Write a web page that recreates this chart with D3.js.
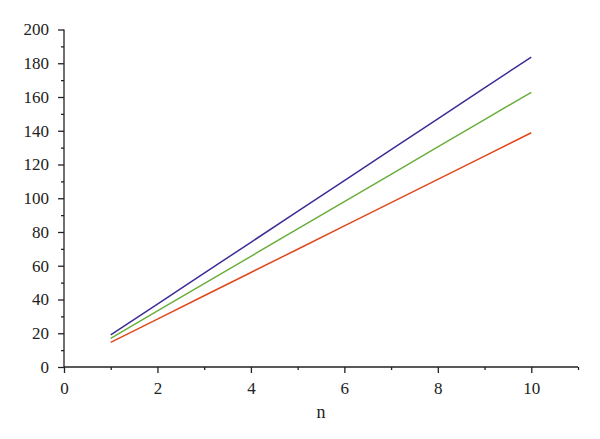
<!DOCTYPE html>
<html><head><meta charset="utf-8">
<script src="https://cdn.jsdelivr.net/npm/d3@7/dist/d3.min.js"></script>
<style>body{margin:0;background:#fff}svg{display:block}
svg text{font-family:"Liberation Serif","DejaVu Serif",serif !important;}</style>
</head><body>
<script>
const nValues = [1, 2, 3, 4, 5, 6, 7, 8, 9, 10];
const blueSeries  = [19.0, 37.3, 55.6, 73.9, 92.2, 110.5, 128.8, 147.1, 165.4, 183.7];
const greenSeries = [17.0, 33.2, 49.4, 65.6, 81.8, 98.0, 114.2, 130.4, 146.6, 162.8];
const redSeries   = [14.6, 28.4, 42.2, 56.0, 69.8, 83.6, 97.4, 111.2, 125.0, 138.8];
const xTicks = [0, 2, 4, 6, 8, 10];
const yTicks = [0, 20, 40, 60, 80, 100, 120, 140, 160, 180, 200];
const xLabel = "n";

const W = 600, H = 439;
const svg = d3.select("body").append("svg").attr("width", W).attr("height", H);
const x = d3.scaleLinear().domain([0, 11]).range([64, 578]);
const y = d3.scaleLinear().domain([0, 200]).range([367, 29.5]);

const xMinor = d3.range(1, 12, 2);
const yMinor = d3.range(10, 200, 20);

const gx = svg.append("g").attr("transform", `translate(0,${y(0)})`);
gx.call(d3.axisBottom(x).tickValues(xMinor).tickSize(3).tickFormat(""));
gx.call(g => g.select(".domain").remove());
const gx2 = svg.append("g").attr("transform", `translate(0,${y(0)})`)
  .call(d3.axisBottom(x).tickValues(xTicks).tickSize(6).tickSizeOuter(0).tickPadding(9));
gx2.select(".domain").attr("d", `M${x(0)},0H${x(11)}`);

const gy = svg.append("g").attr("transform", `translate(${x(0)},0)`);
gy.call(d3.axisLeft(y).tickValues(yMinor).tickSize(3).tickFormat(""));
gy.call(g => g.select(".domain").remove());
const gy2 = svg.append("g").attr("transform", `translate(${x(0)},0)`)
  .call(d3.axisLeft(y).tickValues(yTicks).tickSize(6).tickSizeOuter(0).tickPadding(9));
gy2.select(".domain").attr("d", `M0,${y(0)}V${y(200)}`);

svg.selectAll("g").attr("font-family", null);
svg.selectAll(".tick line, .domain").attr("stroke", "#222").attr("stroke-width", 1.3);
svg.selectAll(".tick text").style("font-size", "17px").attr("fill", "#222");

svg.append("text").attr("x", 321).attr("y", 418).attr("text-anchor", "middle")
  .style("font-size", "18px").attr("fill", "#222").text(xLabel);

const line = d3.line().x((d, i) => x(nValues[i])).y(d => y(d));
[[redSeries, "#e2461b"], [greenSeries, "#6aae3b"], [blueSeries, "#3b2d96"]].forEach(([s, c]) => {
  svg.append("path").datum(s).attr("d", line).attr("fill", "none")
    .attr("stroke", c).attr("stroke-width", 1.5);
});
</script>
</body></html>
